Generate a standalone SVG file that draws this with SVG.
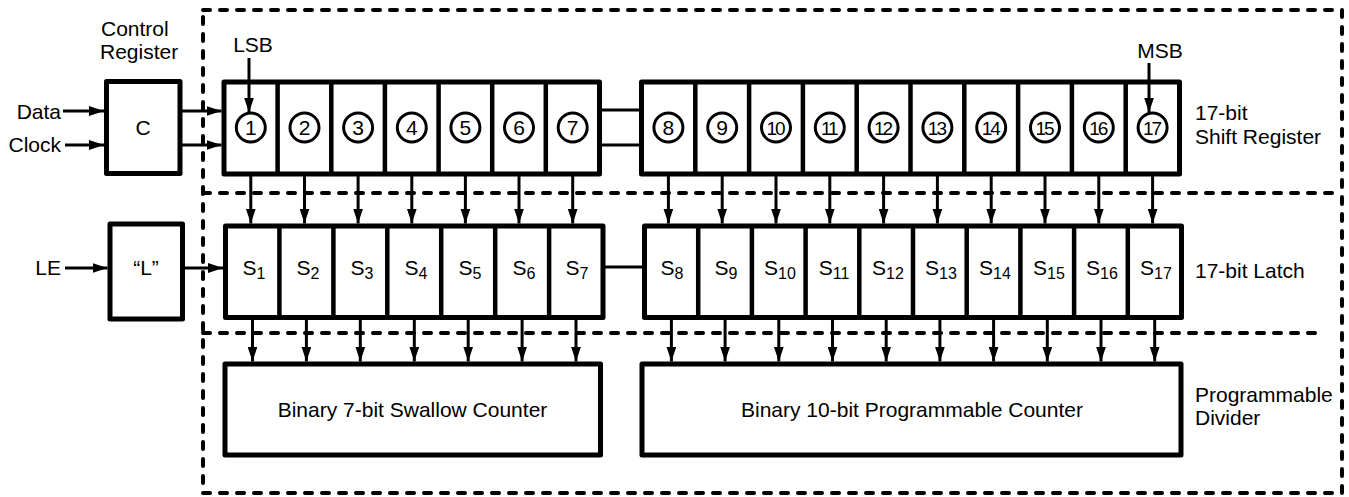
<svg xmlns="http://www.w3.org/2000/svg" width="1349" height="497" viewBox="0 0 1349 497">
<style>
text{font-family:"Liberation Sans",Arial,sans-serif;fill:#000}
.lbl{font-size:21px}
.num{font-size:21px;text-anchor:middle}
.num2{font-size:19px;text-anchor:middle;letter-spacing:-2px}
.s{font-size:21px;text-anchor:middle}
.sub{font-size:16px}
.box{fill:#fff;stroke:#000;stroke-width:5;stroke-linejoin:round}
.div{stroke:#000;stroke-width:4.5}
.circ{fill:#fff;stroke:#000;stroke-width:3}
.dash{fill:none;stroke:#000;stroke-width:4;stroke-dasharray:7 10;stroke-linecap:round}
.wire{stroke:#000;stroke-width:3;fill:none}
.arr{stroke:#000;stroke-width:3;fill:none;marker-end:url(#ah)}
</style>
<defs>
<marker id="ah" markerUnits="userSpaceOnUse" markerWidth="15" markerHeight="10" refX="15" refY="5" orient="auto">
<path d="M0,0 L15,5 L0,10 z" fill="#000"/>
</marker>
</defs>
<rect width="1349" height="497" fill="#fff"/>

<g id="boundaries">
<path class="dash" d="M203,10 H1342 V493 H203 Z"/>
<path class="dash" d="M203,193 H1342"/>
<path class="dash" d="M203,333 H1322"/>
</g>

<g id="control-register">
<rect class="box" x="106.5" y="81.5" width="73.5" height="92"/>
<text class="lbl" x="143" y="135" text-anchor="middle">C</text>
<text class="lbl" x="101" y="36">Control</text>
<text class="lbl" x="100" y="59">Register</text>
</g>

<g id="latch-enable">
<rect class="box" x="110" y="224" width="72.5" height="95"/>
<text class="lbl" x="146" y="275" text-anchor="middle">“L”</text>
</g>

<g id="inputs">
<text class="lbl" x="61" y="119" text-anchor="end">Data</text>
<text class="lbl" x="61" y="152" text-anchor="end">Clock</text>
<text class="lbl" x="61" y="275" text-anchor="end">LE</text>
</g>

<g id="shift-register-a">
<rect class="box" x="224" y="82" width="375.5" height="92"/>
<path class="div" d="M277.6,82V174M331.3,82V174M384.9,82V174M438.6,82V174M492.2,82V174M545.8,82V174"/>
<circle class="circ" cx="250.8" cy="127.5" r="14.5"/><text class="num" x="250.8" y="135">1</text>
<circle class="circ" cx="304.5" cy="127.5" r="14.5"/><text class="num" x="304.5" y="135">2</text>
<circle class="circ" cx="358.1" cy="127.5" r="14.5"/><text class="num" x="358.1" y="135">3</text>
<circle class="circ" cx="411.8" cy="127.5" r="14.5"/><text class="num" x="411.8" y="135">4</text>
<circle class="circ" cx="465.4" cy="127.5" r="14.5"/><text class="num" x="465.4" y="135">5</text>
<circle class="circ" cx="519.0" cy="127.5" r="14.5"/><text class="num" x="519.0" y="135">6</text>
<circle class="circ" cx="572.7" cy="127.5" r="14.5"/><text class="num" x="572.7" y="135">7</text>
</g>

<g id="shift-register-b">
<rect class="box" x="641.5" y="82" width="538" height="92"/>
<path class="div" d="M695.3,82V174M749.1,82V174M802.9,82V174M856.7,82V174M910.5,82V174M964.3,82V174M1018.1,82V174M1071.9,82V174M1125.7,82V174"/>
<circle class="circ" cx="668.4" cy="127.5" r="14.5"/><text class="num" x="668.4" y="135">8</text>
<circle class="circ" cx="722.2" cy="127.5" r="14.5"/><text class="num" x="722.2" y="135">9</text>
<circle class="circ" cx="776.0" cy="127.5" r="14.5"/><text class="num2" x="775" y="134.5">10</text>
<circle class="circ" cx="829.8" cy="127.5" r="14.5"/><text class="num2" x="828.8" y="134.5">11</text>
<circle class="circ" cx="883.6" cy="127.5" r="14.5"/><text class="num2" x="882.6" y="134.5">12</text>
<circle class="circ" cx="937.4" cy="127.5" r="14.5"/><text class="num2" x="936.4" y="134.5">13</text>
<circle class="circ" cx="991.2" cy="127.5" r="14.5"/><text class="num2" x="990.2" y="134.5">14</text>
<circle class="circ" cx="1045.0" cy="127.5" r="14.5"/><text class="num2" x="1044" y="134.5">15</text>
<circle class="circ" cx="1098.8" cy="127.5" r="14.5"/><text class="num2" x="1097.8" y="134.5">16</text>
<circle class="circ" cx="1152.6" cy="127.5" r="14.5"/><text class="num2" x="1151.6" y="134.5">17</text>
</g>

<g id="shift-register-label">
<text class="lbl" x="1195" y="120">17-bit</text>
<text class="lbl" x="1195" y="144">Shift Register</text>
<text class="lbl" x="253" y="52" text-anchor="middle">LSB</text>
<text class="lbl" x="1160" y="58" text-anchor="middle">MSB</text>
</g>

<g id="latch-a">
<rect class="box" x="225.5" y="226" width="377.5" height="91.5"/>
<path class="div" d="M279.4,226V317.5M333.4,226V317.5M387.3,226V317.5M441.2,226V317.5M495.2,226V317.5M549.1,226V317.5"/>
<text class="s" x="254" y="275">S<tspan class="sub" dy="4">1</tspan></text>
<text class="s" x="308" y="275">S<tspan class="sub" dy="4">2</tspan></text>
<text class="s" x="362" y="275">S<tspan class="sub" dy="4">3</tspan></text>
<text class="s" x="416" y="275">S<tspan class="sub" dy="4">4</tspan></text>
<text class="s" x="470" y="275">S<tspan class="sub" dy="4">5</tspan></text>
<text class="s" x="524" y="275">S<tspan class="sub" dy="4">6</tspan></text>
<text class="s" x="577" y="275">S<tspan class="sub" dy="4">7</tspan></text>
</g>

<g id="latch-b">
<rect class="box" x="644.5" y="226" width="537" height="91.5"/>
<path class="div" d="M698.2,226V317.5M751.9,226V317.5M805.6,226V317.5M859.3,226V317.5M913,226V317.5M966.7,226V317.5M1020.4,226V317.5M1074.1,226V317.5M1127.8,226V317.5"/>
<text class="s" x="672" y="275">S<tspan class="sub" dy="4">8</tspan></text>
<text class="s" x="726" y="275">S<tspan class="sub" dy="4">9</tspan></text>
<text class="s" x="780" y="275">S<tspan class="sub" dy="4">10</tspan></text>
<text class="s" x="834" y="275">S<tspan class="sub" dy="4">11</tspan></text>
<text class="s" x="888" y="275">S<tspan class="sub" dy="4">12</tspan></text>
<text class="s" x="941" y="275">S<tspan class="sub" dy="4">13</tspan></text>
<text class="s" x="995" y="275">S<tspan class="sub" dy="4">14</tspan></text>
<text class="s" x="1049" y="275">S<tspan class="sub" dy="4">15</tspan></text>
<text class="s" x="1102" y="275">S<tspan class="sub" dy="4">16</tspan></text>
<text class="s" x="1156" y="275">S<tspan class="sub" dy="4">17</tspan></text>
</g>

<g id="latch-label">
<text class="lbl" x="1195" y="278">17-bit Latch</text>
</g>

<g id="swallow-counter">
<rect class="box" x="225" y="364" width="375.5" height="91"/>
<text class="lbl" x="412.5" y="417" text-anchor="middle">Binary 7-bit Swallow Counter</text>
</g>

<g id="programmable-counter">
<rect class="box" x="642" y="364" width="539" height="91"/>
<text class="lbl" x="912" y="417" text-anchor="middle">Binary 10-bit Programmable Counter</text>
</g>

<g id="divider-label">
<text class="lbl" x="1195" y="402">Programmable</text>
<text class="lbl" x="1195" y="425">Divider</text>
</g>

<g id="connectors">
<path class="arr" d="M63,111H104"/>
<path class="arr" d="M65,145H104"/>
<path class="arr" d="M65,268H107.5"/>
<path class="arr" d="M182,111H221.5"/>
<path class="arr" d="M182,145H221.5"/>
<path class="arr" d="M185,268H223"/>
<path class="arr" d="M249,58V112.5"/>
<path class="arr" d="M1149,63V112.5"/>
<path class="wire" d="M601,110H639M601,145H639"/>
<path class="wire" d="M605,267H642"/>
<path class="arr" d="M250.8,176V223.5"/>
<path class="arr" d="M304.5,176V223.5"/>
<path class="arr" d="M358.1,176V223.5"/>
<path class="arr" d="M411.8,176V223.5"/>
<path class="arr" d="M465.4,176V223.5"/>
<path class="arr" d="M519.0,176V223.5"/>
<path class="arr" d="M572.7,176V223.5"/>
<path class="arr" d="M668.4,176V223.5"/>
<path class="arr" d="M722.2,176V223.5"/>
<path class="arr" d="M776.0,176V223.5"/>
<path class="arr" d="M829.8,176V223.5"/>
<path class="arr" d="M883.6,176V223.5"/>
<path class="arr" d="M937.4,176V223.5"/>
<path class="arr" d="M991.2,176V223.5"/>
<path class="arr" d="M1045.0,176V223.5"/>
<path class="arr" d="M1098.8,176V223.5"/>
<path class="arr" d="M1152.6,176V223.5"/>
<path class="arr" d="M252.5,319.5V361.5"/>
<path class="arr" d="M306.4,319.5V361.5"/>
<path class="arr" d="M360.3,319.5V361.5"/>
<path class="arr" d="M414.3,319.5V361.5"/>
<path class="arr" d="M468.2,319.5V361.5"/>
<path class="arr" d="M522.1,319.5V361.5"/>
<path class="arr" d="M576.0,319.5V361.5"/>
<path class="arr" d="M671.4,319.5V361.5"/>
<path class="arr" d="M725.1,319.5V361.5"/>
<path class="arr" d="M778.8,319.5V361.5"/>
<path class="arr" d="M832.5,319.5V361.5"/>
<path class="arr" d="M886.2,319.5V361.5"/>
<path class="arr" d="M939.9,319.5V361.5"/>
<path class="arr" d="M993.6,319.5V361.5"/>
<path class="arr" d="M1047.3,319.5V361.5"/>
<path class="arr" d="M1101.0,319.5V361.5"/>
<path class="arr" d="M1154.7,319.5V361.5"/>
</g>
</svg>
